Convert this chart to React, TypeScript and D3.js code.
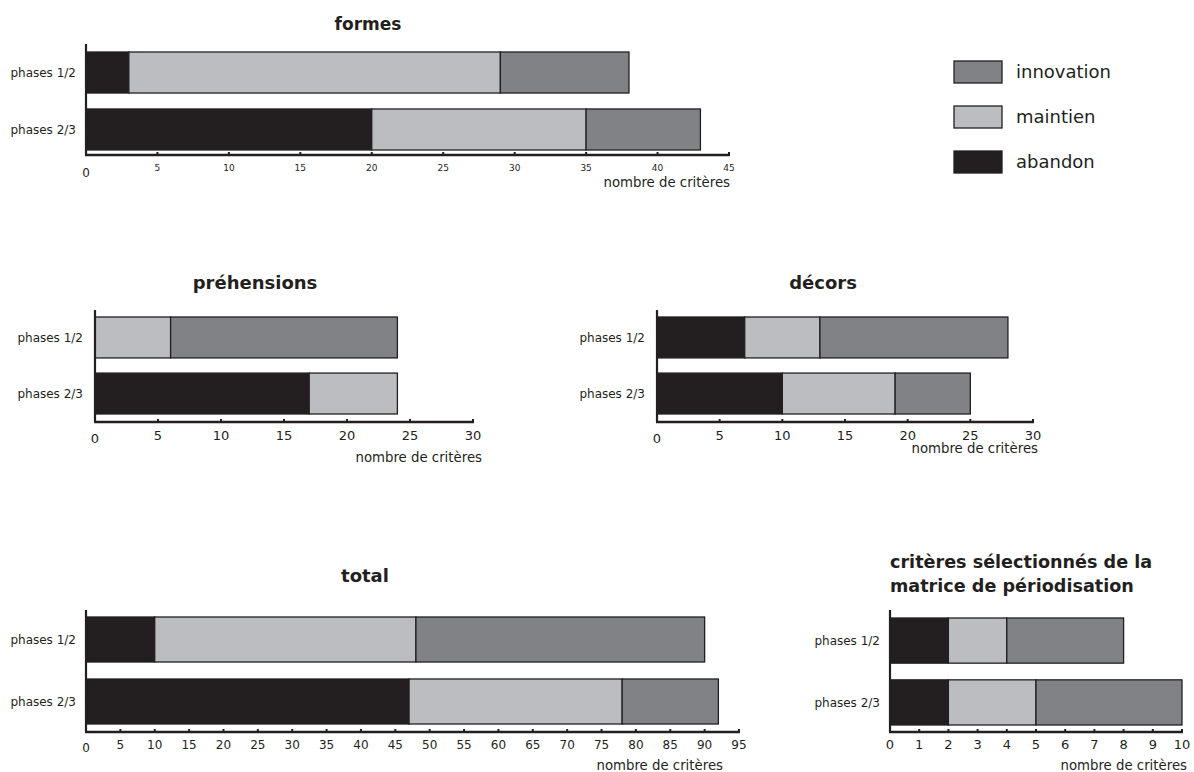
import React from "react";
import * as d3 from "d3";

const categories = ["phases 1/2", "phases 2/3"];
const seriesKeys = ["abandon", "maintien", "innovation"];
const legendOrder = ["innovation", "maintien", "abandon"];

const formesAbandon = [3, 20];
const formesMaintien = [26, 15];
const formesInnovation = [9, 8];

const prehAbandon = [0, 17];
const prehMaintien = [6, 7];
const prehInnovation = [18, 0];

const decorsAbandon = [7, 10];
const decorsMaintien = [6, 9];
const decorsInnovation = [15, 6];

const totalAbandon = [10, 47];
const totalMaintien = [38, 31];
const totalInnovation = [42, 14];

const critAbandon = [2, 2];
const critMaintien = [2, 3];
const critInnovation = [4, 5];

const COLORS: Record<string, string> = {
  abandon: "#231f20",
  maintien: "#bcbdc0",
  innovation: "#808285",
};
const INK = "#231f20";
const FONT = "'DejaVu Sans', Verdana, sans-serif";

type PanelProps = {
  title: string[];
  titleX: number;
  titleY: number;
  titleAnchor?: "middle" | "start";
  titleSize: number;
  left: number;
  right: number;
  max: number;
  step: number;
  axisTop: number;
  axisY: number;
  barTop: number;
  barBottom: number;
  pad: number;
  labelRight: number;
  labelSize: number;
  tickSize: number;
  tickY: number;
  zeroSize: number;
  zeroY: number;
  unitRight: number;
  unitY: number;
  unitSize: number;
  abandon: number[];
  maintien: number[];
  innovation: number[];
};

function Panel(p: PanelProps) {
  const x = d3.scaleLinear().domain([0, p.max]).range([p.left, p.right]);
  const y = d3
    .scaleBand<string>()
    .domain(categories)
    .range([p.barTop, p.barBottom])
    .paddingInner(p.pad)
    .paddingOuter(0);
  const rows = categories.map((c, i) => ({
    cat: c,
    abandon: p.abandon[i],
    maintien: p.maintien[i],
    innovation: p.innovation[i],
  }));
  const stacked = d3.stack<any>().keys(seriesKeys)(rows);
  const ticks = d3.range(p.step, p.max + p.step / 2, p.step);
  return (
    <g>
      {p.title.map((t, i) => (
        <text
          key={i}
          x={p.titleX}
          y={p.titleY + i * 24}
          textAnchor={p.titleAnchor || "middle"}
          fontFamily={FONT}
          fontWeight="bold"
          fontSize={p.titleSize}
          fill={INK}
        >
          {t}
        </text>
      ))}
      {stacked.map((s) =>
        s.map((d, i) =>
          d[1] - d[0] > 0 ? (
            <rect
              key={s.key + i}
              x={x(d[0])}
              y={y(categories[i])}
              width={x(d[1]) - x(d[0])}
              height={y.bandwidth()}
              fill={COLORS[s.key]}
              stroke={INK}
              strokeWidth={1.3}
            />
          ) : null
        )
      )}
      <line x1={p.left} x2={p.left} y1={p.axisTop} y2={p.axisY} stroke={INK} strokeWidth={2.2} />
      <line x1={p.left - 1} x2={p.right + 1} y1={p.axisY} y2={p.axisY} stroke={INK} strokeWidth={2.4} />
      {ticks.map((t) => (
        <g key={t}>
          <line x1={x(t)} x2={x(t)} y1={p.axisY} y2={p.axisY - 3} stroke={INK} strokeWidth={2} />
          <text
            x={x(t)}
            y={p.tickY}
            textAnchor="middle"
            fontFamily={FONT}
            fontSize={p.tickSize}
            fill={INK}
          >
            {t}
          </text>
        </g>
      ))}
      <text x={x(0)} y={p.zeroY} textAnchor="middle" fontFamily={FONT} fontSize={p.zeroSize} fill={INK}>
        0
      </text>
      {categories.map((c) => (
        <text
          key={c}
          x={p.labelRight}
          y={(y(c) as number) + y.bandwidth() / 2}
          dy="0.35em"
          textAnchor="end"
          fontFamily={FONT}
          fontSize={p.labelSize}
          fill={INK}
        >
          {c}
        </text>
      ))}
      <text
        x={p.unitRight}
        y={p.unitY}
        textAnchor="end"
        fontFamily={FONT}
        fontSize={p.unitSize}
        fill={INK}
      >
        nombre de critères
      </text>
    </g>
  );
}

export default function App() {
  const legendY = d3.scalePoint<string>().domain(legendOrder).range([72, 162]);
  return (
    <svg
      width={1194}
      height={772}
      style={{ position: "absolute", left: 0, top: 0, background: "#fff" }}
    >
      <Panel
        title={["formes"]}
        titleX={368}
        titleY={30}
        titleSize={17}
        left={86}
        right={729}
        max={45}
        step={5}
        axisTop={44}
        axisY={155}
        barTop={52}
        barBottom={150}
        pad={0.28}
        labelRight={76}
        labelSize={12}
        tickSize={9}
        tickY={171}
        zeroSize={12}
        zeroY={177}
        unitRight={730}
        unitY={187}
        unitSize={13.3}
        abandon={formesAbandon}
        maintien={formesMaintien}
        innovation={formesInnovation}
      />
      <Panel
        title={["préhensions"]}
        titleX={255}
        titleY={289}
        titleSize={18}
        left={95}
        right={473}
        max={30}
        step={5}
        axisTop={310}
        axisY={422}
        barTop={317}
        barBottom={414}
        pad={0.27}
        labelRight={83}
        labelSize={12}
        tickSize={13}
        tickY={440}
        zeroSize={13}
        zeroY={443}
        unitRight={482}
        unitY={462}
        unitSize={13.3}
        abandon={prehAbandon}
        maintien={prehMaintien}
        innovation={prehInnovation}
      />
      <Panel
        title={["décors"]}
        titleX={823}
        titleY={289}
        titleSize={18}
        left={657}
        right={1033}
        max={30}
        step={5}
        axisTop={310}
        axisY={422}
        barTop={317}
        barBottom={414}
        pad={0.27}
        labelRight={645}
        labelSize={12}
        tickSize={13}
        tickY={440}
        zeroSize={13}
        zeroY={443}
        unitRight={1038}
        unitY={453}
        unitSize={13.3}
        abandon={decorsAbandon}
        maintien={decorsMaintien}
        innovation={decorsInnovation}
      />
      <Panel
        title={["total"]}
        titleX={365}
        titleY={582}
        titleSize={18}
        left={86}
        right={739}
        max={95}
        step={5}
        axisTop={610}
        axisY={732}
        barTop={617}
        barBottom={724}
        pad={0.274}
        labelRight={76}
        labelSize={12}
        tickSize={12}
        tickY={749}
        zeroSize={12}
        zeroY={752}
        unitRight={723}
        unitY={770}
        unitSize={13.3}
        abandon={totalAbandon}
        maintien={totalMaintien}
        innovation={totalInnovation}
      />
      <Panel
        title={["critères sélectionnés de la", "matrice de périodisation"]}
        titleX={890}
        titleY={568}
        titleAnchor="start"
        titleSize={17.6}
        left={890}
        right={1182}
        max={10}
        step={1}
        axisTop={610}
        axisY={732}
        barTop={618}
        barBottom={725}
        pad={0.27}
        labelRight={880}
        labelSize={12}
        tickSize={13}
        tickY={749}
        zeroSize={13}
        zeroY={749}
        unitRight={1187}
        unitY={770}
        unitSize={13.3}
        abandon={critAbandon}
        maintien={critMaintien}
        innovation={critInnovation}
      />
      {legendOrder.map((k) => (
        <g key={k}>
          <rect
            x={954}
            y={(legendY(k) as number) - 11}
            width={48}
            height={22}
            fill={COLORS[k]}
            stroke={INK}
            strokeWidth={1.3}
          />
          <text
            x={1016}
            y={legendY(k) as number}
            dy="0.35em"
            fontFamily={FONT}
            fontSize={18}
            fill={INK}
          >
            {k}
          </text>
        </g>
      ))}
    </svg>
  );
}
